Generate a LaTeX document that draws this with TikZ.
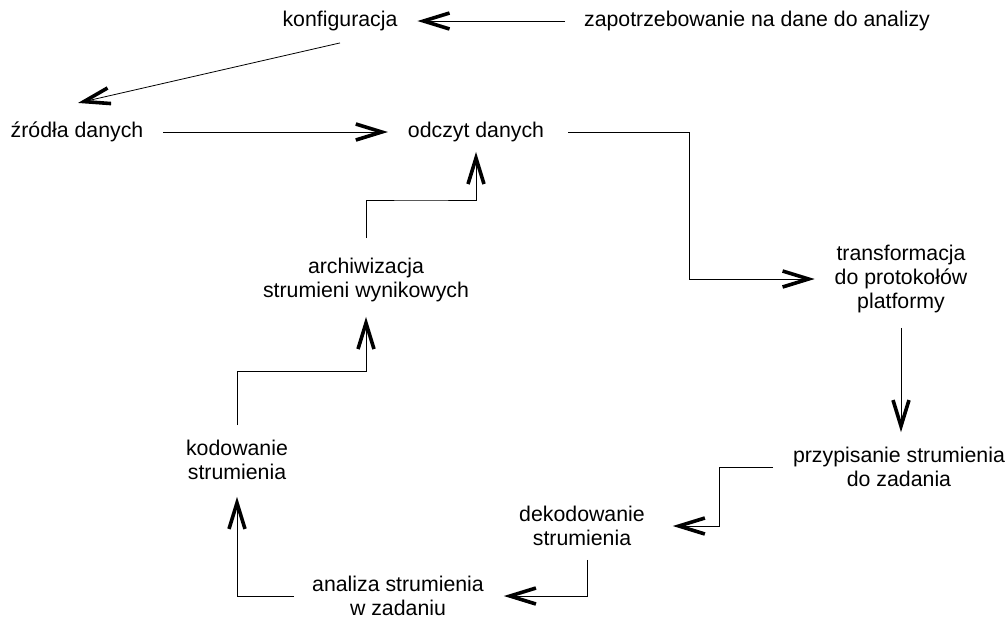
\documentclass[tikz,border=0pt]{standalone}
\usepackage{fontspec}
\setmainfont{Liberation Sans}
\usepackage{tikz}
\usetikzlibrary{arrows.meta, positioning, calc}

\begin{document}
\begin{tikzpicture}[x=1pt, y=-1pt,
    font=\fontsize{21.3}{24}\selectfont,
    lbl/.style={inner sep=0pt, outer sep=0pt, align=center},
    flow/.style={line width=0.8pt,
      -{Straight Barb[length=26pt, width=16pt, line width=3.6pt]}}]
  \useasboundingbox (0,0) rectangle (1008,619);
  % labels
  \node[lbl] (konf) at (340,21) {konfiguracja};
  \node[lbl] (zap) at (757,21) {zapotrzebowanie na dane do analizy};
  \node[lbl] (zrodla) at (77,132) {źródła danych};
  \node[lbl] (odczyt) at (476,132) {odczyt danych};
  \node[lbl] (trans) at (901,279) {transformacja\\do protokołów\\platformy};
  \node[lbl] (przyp) at (899,467) {przypisanie strumienia\\do zadania};
  \node[lbl] (dekod) at (582,526) {dekodowanie\\strumienia};
  \node[lbl] (analiza) at (398,596) {analiza strumienia\\w zadaniu};
  \node[lbl] (kodow) at (237,460) {kodowanie\\strumienia};
  \node[lbl] (archiw) at (366,280) {archiwizacja\\strumieni wynikowych};
  % top
  \draw[flow, shorten <=19pt, shorten >=20pt] (zap.west) -- (konf.east);
  \draw[flow] ($(konf.south)+(0,12)$) -- ($(zrodla.north)+(1,-19)$);
  \draw[flow, shorten <=20pt, shorten >=20pt] (zrodla.east) -- (odczyt.west);
  % right side
  \draw[flow, shorten <=24pt, shorten >=20pt]
    (odczyt.east) -| ($(odczyt.east)!.5!(trans.west)$) |- (trans.west);
  \draw[flow, shorten <=15pt, shorten >=15pt]
    (trans.south) -- (trans.south |- przyp.north);
  \draw[flow, shorten <=20pt, shorten >=28pt]
    (przyp.west) -| ($(przyp.west)!.5!(dekod.east)$) |- (dekod.east);
  % bottom and left
  \draw[flow, shorten <=14pt, shorten >=20pt]
    ($(dekod.south)+(5,0)$) |- (analiza.east);
  \draw[flow, shorten <=18pt, shorten >=17pt]
    (analiza.west) -| (kodow.south);
  \draw[flow, shorten <=15pt, shorten >=15pt]
    (kodow.north) |- ($(kodow.north)!.5!(archiw.south)$) -| (archiw.south);
  \draw[flow, shorten <=20pt, shorten >=10pt]
    (archiw.north) |- ($(archiw.north)!.5!(odczyt.south)$) -| (odczyt.south);
\end{tikzpicture}
\end{document}
